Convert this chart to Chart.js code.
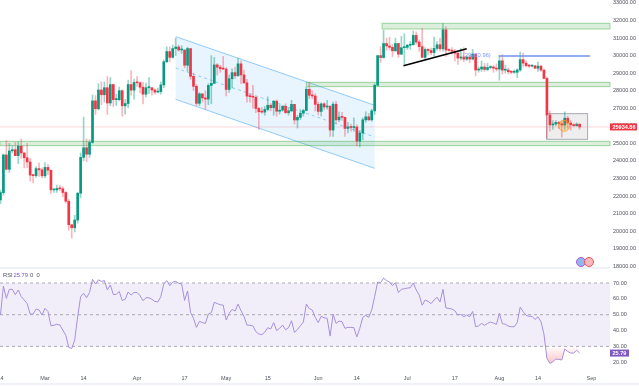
<!DOCTYPE html>
<html lang="en">
<head>
  <meta charset="UTF-8" />
  <title>BTC daily with RSI</title>
  <script src="https://cdn.jsdelivr.net/npm/chart.js"></script>
  <style>
    html, body { margin: 0; background: #fff; overflow: hidden; }
    #wrap { position: relative; width: 639px; height: 386px; }
    canvas { position: absolute; left: 0; display: block; }
    #priceChart { top: 0; }
    #rsiChart { top: 268px; }
    .rule { position: absolute; left: 0; width: 610px; height: 1.5px; background: #eef1f7; }
  </style>
</head>
<body>
<div id="wrap">
  <canvas id="priceChart" width="639" height="272"></canvas>
  <canvas id="rsiChart" width="639" height="118"></canvas>
  <div class="rule" style="top:267px"></div>
  <div class="rule" style="top:383px;width:639px"></div>
</div>

<script>
// daily candles, first one is Feb 14
const opens = [21780,22190,24340,23520,24570,24640,24300,24840,24450,24180,23940,23190,23160,23560,23490,
  23150,23630,23470,22350,22350,22430,22410,22200,21700,20360,20190,20630,22160,24200,24750,24380,25050,27420,26970,28040,27770,28170,27300,28350,27490,27490,28000,27140,27270,28350,28030,
  28470,28450,28200,27800,28170,28170,28040,27920,27950,28330,29650,30230,29900,30400,30490,30320,30320,29450,30400,28820,28250,27280,27820,27590,27520,28300,28420,29470,29340,29250,
  29230,28070,28680,29030,28850,29530,28900,28450,27690,27660,27630,26990,26800,26780,26930,27170,27030,27400,26830,26890,27110,26750,26850,27220,26330,26480,26720,26870,28080,27740,27700,
  27220,26820,27250,27070,27120,25760,27230,26340,26500,26480,25850,25940,25900,25930,25130,25590,26340,26510,26340,26850,28310,30000,29890,30690,30550,30470,30270,30690,30080,30450,
  30470,30590,30620,31150,30770,30510,29900,30350,30290,30170,30410,30620,30390,31470,30320,30290,30250,30140,29860,29920,29800,29910,29800,30080,29180,29230,29350,29210,29320,29350,29280,
  29230,29700,29170,29180,29080,29050,29050,29180,29770,29570,29430,29400,29420,29280,29400,29170,28700,26620,26050,26100,26190,26120,26040,26430,26160,26060,26010,26090];
const highs = [22320,24400,25150,25000,24870,25050,25080,25250,24480,25000,24150,23230,23680,23880,23600,
  23900,23800,23480,22380,22620,22600,22520,22250,21800,20400,20900,22200,24450,26500,25250,25200,27750,27720,28400,28500,28500,28800,28750,28380,27790,28200,28050,27500,28600,29150,28650,
  28800,28500,28480,28430,28750,28170,28100,28150,28500,29750,30500,30500,30600,31000,30600,30560,30320,30480,30420,29000,28350,27900,27820,28000,28400,30000,29900,29550,29450,29950,
  29320,28900,29250,29350,29850,29700,29170,28650,27830,28300,27650,27050,27050,27100,27650,27270,27450,27480,27180,27150,27250,27050,27450,27220,26600,26930,26950,28200,28450,28000,27830,
  27350,27300,27320,27450,27130,27350,27400,26800,26770,26500,26200,26100,26450,26050,25750,26450,26800,26700,26950,28400,30000,30500,31450,31000,31050,30650,31000,30700,31100,31250,
  30650,30800,31400,31350,30900,31550,30450,30400,30430,31050,30800,31000,31820,31650,30400,30450,30350,30250,30400,30450,30000,30000,30350,30100,29350,29700,29550,29550,29420,29450,29520,
  30000,30050,29450,29300,29150,29180,29250,30200,30150,29700,29500,29480,29450,29650,29450,29230,28770,26850,26300,26300,26250,26300,26800,26550,26300,26120,26170,26120];
const lows = [21560,22050,23480,23350,24450,24300,23850,24150,23600,23620,22850,22750,23060,23120,23030,
  23040,23220,22150,22200,22210,22320,21950,21600,20050,19600,19950,20450,21900,24000,23950,24200,25000,26650,26900,27200,27350,26650,27150,27100,27160,27420,26550,26670,27030,27750,27520,
  28250,27870,27250,27650,27830,27750,27800,27880,27800,28170,29600,29650,29850,30000,30250,30120,29300,29100,28650,28000,27150,27150,27350,26950,27200,27250,28400,28900,29050,29200,
  27700,27900,28150,28700,28830,28400,28400,27350,27350,27000,26750,25800,26700,26600,26850,26850,26600,26550,26670,26830,26700,26600,26800,26100,25870,26350,26550,26850,27550,27550,26850,
  26620,26550,26920,26950,25400,25400,26100,26220,26300,25400,25600,25700,25700,24850,24800,25200,26200,26300,26250,26650,28250,29600,29850,30300,30300,29950,30250,29900,30050,29500,
  30350,30350,30600,30650,30250,29900,29750,30050,30050,29950,30300,30250,30250,29950,30250,30100,29700,29500,29750,29650,29720,29600,29750,28850,29050,29100,29100,29130,29250,29050,29120,
  28600,28950,29000,28950,28950,28980,28750,29100,29350,29350,29320,29350,29250,29100,29100,28700,25300,25700,25800,26000,25850,25350,25800,25850,25750,25960,25980,25800];
const closes = [22190,24340,23520,24570,24640,24300,24840,24450,24180,23940,23190,23160,23560,23490,23150,
  23630,23470,22350,22350,22430,22410,22200,21700,20360,20190,20630,22160,24200,24750,24380,25050,27420,26970,28040,27770,28170,27300,28350,27490,27490,28000,27140,27270,28350,28030,28470,
  28450,28200,27800,28170,28170,28040,27920,27950,28330,29650,30230,29900,30400,30490,30320,30320,29450,30400,28820,28250,27280,27820,27590,27520,28300,28420,29470,29340,29250,29230,
  28070,28680,29030,28850,29530,28900,28450,27690,27660,27630,26990,26800,26780,26930,27170,27030,27400,26830,26890,27110,26750,26850,27220,26330,26480,26720,26870,28080,27740,27700,27220,
  26820,27250,27070,27120,25760,27230,26340,26500,26480,25850,25940,25900,25930,25130,25590,26340,26510,26340,26850,28310,30000,29890,30690,30550,30470,30270,30690,30080,30450,30470,
  30590,30620,31150,30770,30510,29900,30350,30290,30170,30410,30620,30390,31470,30320,30290,30250,30140,29860,29920,29800,29910,29800,30080,29180,29230,29350,29210,29320,29350,29280,29230,
  29700,29170,29180,29080,29050,29050,29180,29770,29570,29430,29400,29420,29280,29400,29170,28700,26620,26050,26100,26190,26120,26040,26430,26160,26060,26010,26090,25934.86];
const rsiValues = [49.8,68,60.3,66,66,62.6,65.6,61.4,59.3,57,50.4,50.4,53.6,53,49.8,
  54,52,43,43.3,44,43.5,40.3,37,29.4,28.7,34,48.7,61.4,63.5,60.7,64,72.3,69.4,72,71,71.5,65.6,68.7,62.8,62.8,64.7,59,59.7,64.3,62.4,64,
  64,62,58.8,60.7,60.7,59.7,58.4,58,61.4,69.4,71.5,68.3,70.6,71,69.8,69.4,59,65,51.5,47.7,42,45.8,45,44.5,50.4,51.3,57.8,57,56.3,56,
  46.6,50.8,53.4,52.3,56.7,52.5,49,43.5,43.3,43,39.3,37.8,37.4,39,41.8,41,45,40,41.4,43.5,40.5,41.8,46.2,38.8,40.7,43,45.4,56.7,53.8,53,48.3,
  45,49,48,47.7,36.5,50.4,44.5,46,45.6,41.4,42,42,41.8,36,41.4,48.3,49.6,48.3,53,61.4,70.6,70.2,73,71.5,70.6,68.3,70.2,64,66,66.4,
  66.8,67,70,65.6,62.4,56,59.3,58.4,57,59.3,61,58,66,54.2,54,53.6,52.5,49.8,50.2,48.7,49.8,48.7,52,42.4,43,44.5,43.3,44.5,45.4,44.7,43.9,
  50.8,44.3,44,42.8,42.4,42.4,45,54.8,51.9,49.6,49,49,47,48.7,45.6,37.8,22.4,19.3,20.3,22,21.8,21.4,28.3,26.8,25.8,25.8,27.5,25.79];

const priceTicks = [18000,19000,20000,21000,22000,23000,24000,25000,26000,27000,28000,29000,30000,31000,32000,33000];
const rsiTicks = [20,30,40,50,60,70];
const rsiLevels = [70,50,30];
// day number counted from Feb 14
const dateTickDays = [0,15,28,46,62,76,90,107,120,137,153,168,181,199];
const dateTickLabels = ['14','Mar','14','Apr','17','May','15','Jun','14','Jul','17','Aug','14','Sep'];

const lastPrice = 25934.86;
const lastRsi = 25.79;

// drawings, as [first day, last day, top price, bottom price]
const lastDay = 205.24;
const zones = [[103,lastDay,28477,28230],[128.5,lastDay,31840,31517],[-0.15,lastDay,25115,24870]];
const channelDays = [59,126];
const channelTop = [31080,27166];
const channelMid = [29293,25362];
const channelBottom = [27508,23577];
const trendDays = [135.7,157];
const trendPrices = [29426,30395];
const levelDays = [167.8,198.5];
const levelPrice = 29980;
const levelText = '(29980.96)';
const markBox = [183.9,197.7,26692,25229];
const markCircle = [189.8,26000];

const green = '#089981', red = '#f23645';
const axisFont = { family: "'Liberation Sans', sans-serif", size: 5.5 };
const days = opens.map((_, i) => i);

function fixWidth(axis) {
  axis.width = 29;
  axis.paddingTop = 0;
  axis.paddingBottom = 0;
}

const priceDrawings = {
  id: 'priceDrawings',
  beforeDatasetsDraw(chart) {
    const { ctx, scales: { x, y }, chartArea: a } = chart;
    ctx.save();
    // channel
    ctx.fillStyle = 'rgba(33,150,243,0.1)';
    ctx.beginPath();
    ctx.moveTo(x.getPixelForValue(channelDays[0]), y.getPixelForValue(channelTop[0]));
    ctx.lineTo(x.getPixelForValue(channelDays[1]), y.getPixelForValue(channelTop[1]));
    ctx.lineTo(x.getPixelForValue(channelDays[1]), y.getPixelForValue(channelBottom[1]));
    ctx.lineTo(x.getPixelForValue(channelDays[0]), y.getPixelForValue(channelBottom[0]));
    ctx.closePath();
    ctx.fill();
    ctx.strokeStyle = '#90caf9';
    ctx.lineWidth = 1;
    [channelTop, channelBottom, channelMid].forEach((line, i) => {
      ctx.setLineDash(i === 2 ? [3, 3] : []);
      ctx.beginPath();
      ctx.moveTo(x.getPixelForValue(channelDays[0]), y.getPixelForValue(line[0]));
      ctx.lineTo(x.getPixelForValue(channelDays[1]), y.getPixelForValue(line[1]));
      ctx.stroke();
    });
    ctx.setLineDash([]);
    // last price line
    ctx.strokeStyle = 'rgba(242,54,69,0.2)';
    ctx.beginPath();
    ctx.moveTo(a.left, y.getPixelForValue(lastPrice));
    ctx.lineTo(a.right, y.getPixelForValue(lastPrice));
    ctx.stroke();
    // green zones
    zones.forEach(z => {
      const l = x.getPixelForValue(z[0]), r = x.getPixelForValue(z[1]);
      const t = y.getPixelForValue(z[2]), b = y.getPixelForValue(z[3]);
      ctx.fillStyle = 'rgba(76,175,80,0.2)';
      ctx.fillRect(l, t, r - l, b - t);
      ctx.strokeStyle = 'rgba(76,175,80,0.5)';
      ctx.strokeRect(l, t, r - l, b - t);
    });
    // grey box
    const l = x.getPixelForValue(markBox[0]), r = x.getPixelForValue(markBox[1]);
    const t = y.getPixelForValue(markBox[2]), b = y.getPixelForValue(markBox[3]);
    ctx.fillStyle = 'rgba(120,123,134,0.13)';
    ctx.fillRect(l, t, r - l, b - t);
    ctx.strokeStyle = '#a9abb3';
    ctx.strokeRect(l, t, r - l, b - t);
    ctx.restore();
  },
  afterDatasetsDraw(chart) {
    const { ctx, scales: { x, y }, chartArea: a } = chart;
    ctx.save();
    // trend line
    ctx.strokeStyle = '#000';
    ctx.lineWidth = 1.6;
    ctx.beginPath();
    ctx.moveTo(x.getPixelForValue(trendDays[0]), y.getPixelForValue(trendPrices[0]));
    ctx.lineTo(x.getPixelForValue(trendDays[1]), y.getPixelForValue(trendPrices[1]));
    ctx.stroke();
    // blue level and its text
    ctx.strokeStyle = '#6f92f2';
    ctx.lineWidth = 1.4;
    ctx.beginPath();
    ctx.moveTo(x.getPixelForValue(levelDays[0]), y.getPixelForValue(levelPrice));
    ctx.lineTo(x.getPixelForValue(levelDays[1]), y.getPixelForValue(levelPrice));
    ctx.stroke();
    ctx.fillStyle = '#7b9cf5';
    ctx.font = "5.8px 'Liberation Sans', sans-serif";
    ctx.textAlign = 'right';
    ctx.textBaseline = 'middle';
    ctx.fillText(levelText, x.getPixelForValue(levelDays[0]) - 8, y.getPixelForValue(levelPrice) - 0.5);
    // orange circle
    ctx.fillStyle = 'rgba(255,152,0,0.22)';
    ctx.strokeStyle = 'rgba(255,152,0,0.7)';
    ctx.lineWidth = 1;
    ctx.beginPath();
    ctx.arc(x.getPixelForValue(markCircle[0]), y.getPixelForValue(markCircle[1]), 5.5, 0, Math.PI * 2);
    ctx.fill();
    ctx.stroke();
    // flags logo
    ctx.lineWidth = 1;
    ctx.fillStyle = '#8fb6ee';
    ctx.strokeStyle = '#b05ad6';
    ctx.beginPath(); ctx.arc(581, 262, 4.5, 0, Math.PI * 2); ctx.fill(); ctx.stroke();
    ctx.fillStyle = '#f8b9be';
    ctx.strokeStyle = '#ef5350';
    ctx.beginPath(); ctx.arc(589, 262, 4.5, 0, Math.PI * 2); ctx.fill(); ctx.stroke();
    // last price tag
    const py = y.getPixelForValue(lastPrice);
    ctx.fillStyle = red;
    ctx.fillRect(a.right, py - 3.5, 27, 7);
    ctx.fillStyle = '#fff';
    ctx.font = "bold 5.5px 'Liberation Sans', sans-serif";
    ctx.textAlign = 'left';
    ctx.fillText(lastPrice.toFixed(2), a.right + 2.5, py + 0.3);
    ctx.restore();
  }
};

new Chart(document.getElementById('priceChart').getContext('2d'), {
  type: 'bar',
  data: {
    datasets: [
      {
        data: days.map(i => ({ x: i, y: [lows[i], highs[i]] })),
        backgroundColor: days.map(i => closes[i] >= opens[i] ? 'rgba(8,153,129,0.42)' : 'rgba(242,54,69,0.36)'),
        barThickness: 1,
        grouped: false,
        order: 2
      },
      {
        data: days.map(i => ({ x: i, y: [opens[i], closes[i]] })),
        backgroundColor: days.map(i => closes[i] >= opens[i] ? green : red),
        barThickness: 2,
        grouped: false,
        minBarLength: 1,
        order: 1
      }
    ]
  },
  plugins: [priceDrawings],
  options: {
    responsive: false,
    animation: false,
    layout: { padding: { bottom: 4 } },
    plugins: { legend: { display: false }, tooltip: { enabled: false } },
    scales: {
      x: { type: 'linear', display: false, offset: false, min: -0.15, max: lastDay },
      y: {
        position: 'right',
        min: 17897,
        max: 33168,
        afterFit: fixWidth,
        afterBuildTicks: axis => { axis.ticks = priceTicks.map(value => ({ value })); },
        grid: { display: false, drawTicks: false },
        border: { display: false },
        ticks: {
          padding: 3,
          color: '#50535e',
          font: axisFont,
          callback: v => v.toFixed(2)
        }
      }
    }
  }
});

const rsiDrawings = {
  id: 'rsiDrawings',
  beforeDatasetsDraw(chart) {
    const { ctx, scales: { y }, chartArea: a } = chart;
    const top = y.getPixelForValue(rsiLevels[0]), bottom = y.getPixelForValue(rsiLevels[2]);
    ctx.save();
    ctx.fillStyle = 'rgba(126,87,194,0.1)';
    ctx.fillRect(a.left, top, a.right - a.left, bottom - top);
    ctx.strokeStyle = 'rgba(120,123,134,0.6)';
    ctx.lineWidth = 1;
    ctx.setLineDash([3, 3]);
    rsiLevels.forEach(level => {
      ctx.beginPath();
      ctx.moveTo(a.left, y.getPixelForValue(level));
      ctx.lineTo(a.right, y.getPixelForValue(level));
      ctx.stroke();
    });
    ctx.restore();
  },
  afterDatasetsDraw(chart) {
    const { ctx, scales: { y }, chartArea: a } = chart;
    ctx.save();
    ctx.textBaseline = 'middle';
    ctx.font = "5.8px 'Liberation Sans', sans-serif";
    ctx.fillStyle = '#50535e';
    ctx.fillText('RSI', 3, 7);
    ctx.fillStyle = '#7e57c2';
    ctx.fillText(lastRsi.toFixed(2), 13.5, 7);
    ctx.fillStyle = '#50535e';
    ctx.fillText('0', 30, 7);
    ctx.fillText('0', 36.5, 7);
    const py = y.getPixelForValue(lastRsi);
    ctx.fillStyle = '#7e57c2';
    ctx.fillRect(a.right, py - 3.5, 19, 7);
    ctx.fillStyle = '#fff';
    ctx.font = "bold 5.5px 'Liberation Sans', sans-serif";
    ctx.fillText(lastRsi.toFixed(2), a.right + 2.5, py + 0.3);
    ctx.restore();
  }
};

const rsiCtx = document.getElementById('rsiChart').getContext('2d');
const oversold = rsiCtx.createLinearGradient(0, 78, 0, 96);
oversold.addColorStop(0, 'rgba(242,54,69,0)');
oversold.addColorStop(1, 'rgba(242,54,69,0.3)');

new Chart(rsiCtx, {
  type: 'line',
  data: {
    datasets: [{
      data: days.map(i => ({ x: i, y: rsiValues[i] })),
      borderColor: '#a78fdc',
      borderWidth: 1,
      pointRadius: 0,
      tension: 0,
      fill: { value: 30, above: 'rgba(0,0,0,0)', below: oversold }
    }]
  },
  plugins: [rsiDrawings],
  options: {
    responsive: false,
    animation: false,
    plugins: { legend: { display: false }, tooltip: { enabled: false } },
    scales: {
      x: {
        type: 'linear',
        min: -0.15,
        max: lastDay,
        afterFit: axis => {
          axis.height = 14;
          axis.paddingLeft = 0;
          axis.paddingRight = 0;
        },
        afterBuildTicks: axis => { axis.ticks = dateTickDays.map(value => ({ value })); },
        grid: { display: false, drawTicks: false },
        border: { display: false },
        ticks: {
          autoSkip: false,
          maxRotation: 0,
          padding: 3,
          color: '#50535e',
          font: axisFont,
          callback: (v, i) => dateTickLabels[i]
        }
      },
      y: {
        position: 'right',
        min: 13.85,
        max: 79.46,
        afterFit: fixWidth,
        afterBuildTicks: axis => { axis.ticks = rsiTicks.map(value => ({ value })); },
        grid: { display: false, drawTicks: false },
        border: { display: false },
        ticks: {
          padding: 3,
          color: '#50535e',
          font: axisFont,
          callback: v => v.toFixed(2)
        }
      }
    }
  }
});
</script>
</body>
</html>
